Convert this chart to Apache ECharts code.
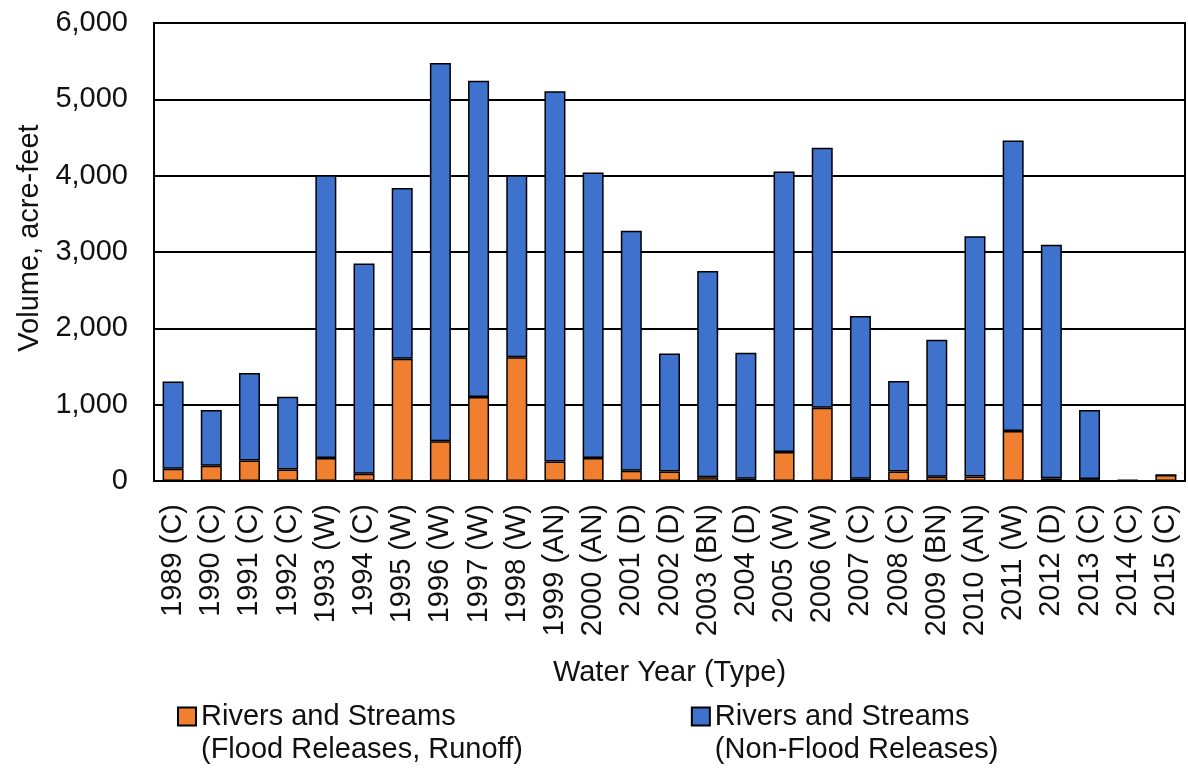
<!DOCTYPE html>
<html>
<head>
<meta charset="utf-8">
<script src="https://cdn.jsdelivr.net/npm/echarts@6/dist/echarts.min.js"></script>
<style>
html,body{margin:0;padding:0;background:#fff;}
#chart{width:1188px;height:769px;}
</style>
</head>
<body>
<div id="chart"></div>
<script>
var categories = ['1989 (C)','1990 (C)','1991 (C)','1992 (C)','1993 (W)','1994 (C)','1995 (W)','1996 (W)','1997 (W)','1998 (W)','1999 (AN)','2000 (AN)','2001 (D)','2002 (D)','2003 (BN)','2004 (D)','2005 (W)','2006 (W)','2007 (C)','2008 (C)','2009 (BN)','2010 (AN)','2011 (W)','2012 (D)','2013 (C)','2014 (C)','2015 (C)'];
var floodReleases = [160, 200, 268, 150, 300, 95, 1600, 520, 1100, 1620, 255, 300, 135, 125, 50, 30, 380, 960, 30, 125, 55, 60, 655, 35, 25, 5, 80];
var nonFloodReleases = [1145, 730, 1147, 955, 3705, 2755, 2240, 4955, 4145, 2385, 4850, 3740, 3145, 1545, 2700, 1650, 3675, 3405, 2130, 1185, 1795, 3145, 3805, 3060, 905, 10, 0];
var yTicks = [0, 1000, 2000, 3000, 4000, 5000, 6000];
var seriesNames = ['Rivers and Streams (Flood Releases, Runoff)', 'Rivers and Streams (Non-Flood Releases)'];

var FONT = 'Liberation Sans, Arial, sans-serif';
var chart = echarts.init(document.getElementById('chart'));
chart.setOption({
  animation: false,
  backgroundColor: '#fff',
  textStyle: { fontFamily: FONT, color: '#111' },
  grid: { left: 154, right: 3, top: 23, bottom: 288, show: true, borderColor: '#000', borderWidth: 2, backgroundColor: 'transparent' },
  legend: {
    left: 177, top: 667, padding: 0,
    itemWidth: 18, itemHeight: 18, itemGap: 168,
    icon: 'rect',
    textStyle: { fontFamily: FONT, fontSize: 29, color: '#111', lineHeight: 33 },
    formatter: function (n) { return '\n' + n.replace(' (', '\n('); },
    data: seriesNames
  },
  xAxis: {
    type: 'category',
    data: categories,
    name: 'Water Year (Type)',
    nameLocation: 'middle',
    nameGap: 177,
    nameTextStyle: { fontFamily: FONT, fontSize: 29, color: '#111' },
    axisLine: { show: true, lineStyle: { color: '#000', width: 2 } },
    axisTick: { show: false },
    axisLabel: { rotate: 90, fontFamily: FONT, fontSize: 29, color: '#111', margin: 23, interval: 0 }
  },
  yAxis: {
    type: 'value',
    min: yTicks[0], max: yTicks[yTicks.length - 1], interval: 1000,
    name: 'Volume, acre-feet',
    nameLocation: 'middle',
    nameGap: 108,
    nameTextStyle: { fontFamily: FONT, fontSize: 29, color: '#111', padding: [0, 0, 0, 28] },
    axisLine: { show: true, lineStyle: { color: '#000', width: 2 } },
    axisTick: { show: false },
    splitLine: { show: true, lineStyle: { color: '#000', width: 2 } },
    axisLabel: {
      fontFamily: FONT, fontSize: 29, color: '#111', margin: 26,
      formatter: function (v) { return v.toLocaleString('en-US'); }
    }
  },
  series: [
    {
      name: seriesNames[0], type: 'bar', stack: 'vol', data: floodReleases, barWidth: 21,
      itemStyle: { color: '#F0802F', borderColor: '#000', borderWidth: 1.5 }
    },
    {
      name: seriesNames[1], type: 'bar', stack: 'vol', data: nonFloodReleases, barWidth: 21,
      itemStyle: { color: '#3F72CC', borderColor: '#000', borderWidth: 1.5 }
    }
  ]
});
</script>
</body>
</html>
